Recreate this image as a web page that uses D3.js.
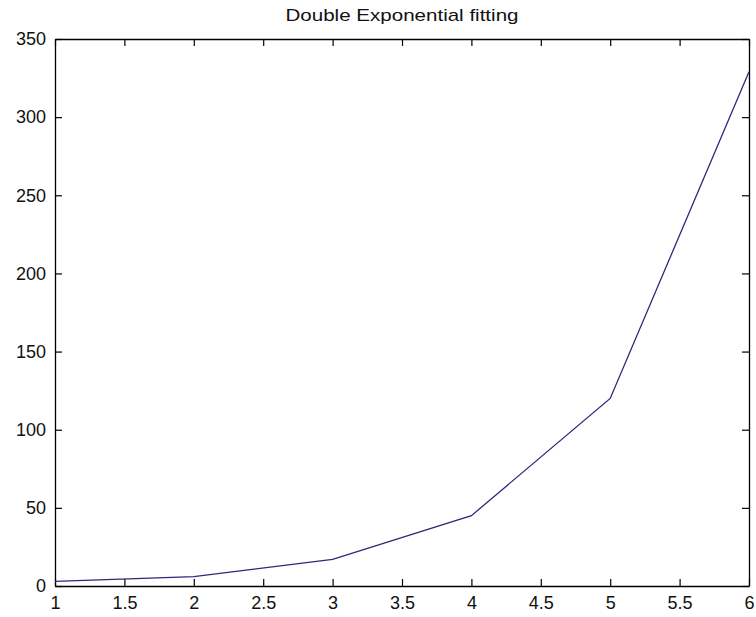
<!DOCTYPE html>
<html><head><meta charset="utf-8">
<script src="https://cdn.jsdelivr.net/npm/d3@7"></script>
<style>body{margin:0;background:#fff}svg{display:block}</style>
</head><body>
<script>
const xValues = [1, 2, 3, 4, 5, 6];
const yValues = [3, 6, 17, 45, 120, 329];
const xTicks = [1, 1.5, 2, 2.5, 3, 3.5, 4, 4.5, 5, 5.5, 6];
const yTicks = [0, 50, 100, 150, 200, 250, 300, 350];
const title = "Double Exponential fitting";

const W = 756, H = 617;
const m = {left: 55, right: 7, top: 39, bottom: 31};
const svg = d3.select("body").append("svg").attr("width", W).attr("height", H);
const x = d3.scaleLinear().domain([1, 6]).range([m.left, W - m.right]);
const y = d3.scaleLinear().domain([0, 350]).range([H - m.bottom, m.top]);
const font = "Liberation Sans, Arial, sans-serif";

const tk = 7;
const fmt = d => String(d);
const gB = svg.append("g").attr("transform", `translate(0,${H - m.bottom})`)
  .call(d3.axisBottom(x).tickValues(xTicks).tickFormat(fmt).tickSizeInner(-tk).tickSizeOuter(0).tickPadding(10));
const gT = svg.append("g").attr("transform", `translate(0,${m.top})`)
  .call(d3.axisTop(x).tickValues(xTicks).tickFormat("").tickSizeInner(-tk).tickSizeOuter(0));
const gL = svg.append("g").attr("transform", `translate(${m.left},0)`)
  .call(d3.axisLeft(y).tickValues(yTicks).tickFormat(fmt).tickSizeInner(-tk).tickSizeOuter(0).tickPadding(9));
const gR = svg.append("g").attr("transform", `translate(${W - m.right},0)`)
  .call(d3.axisRight(y).tickValues(yTicks).tickFormat("").tickSizeInner(-tk).tickSizeOuter(0));
[gB, gT, gL, gR].forEach(g => {
  g.selectAll("path.domain").attr("stroke", "#000").attr("stroke-width", 1.3);
  g.selectAll(".tick line").attr("stroke", "#000").attr("stroke-width", 1.2);
  g.selectAll("text").attr("font-family", font).attr("font-size", 18).attr("fill", "#111");
});
gB.selectAll("text").attr("dy", "0.71em");

const line = d3.line().x((d, i) => x(xValues[i])).y(d => y(d));
svg.append("path").datum(yValues).attr("d", line)
  .attr("fill", "none").attr("stroke", "#2a2a7c").attr("stroke-width", 1.3);

svg.append("text").attr("x", (m.left + W - m.right) / 2).attr("y", 21)
  .attr("text-anchor", "middle").attr("font-family", font).attr("font-size", 17)
  .attr("textLength", 233).attr("lengthAdjust", "spacingAndGlyphs")
  .attr("fill", "#111").text(title);
</script>
</body></html>
